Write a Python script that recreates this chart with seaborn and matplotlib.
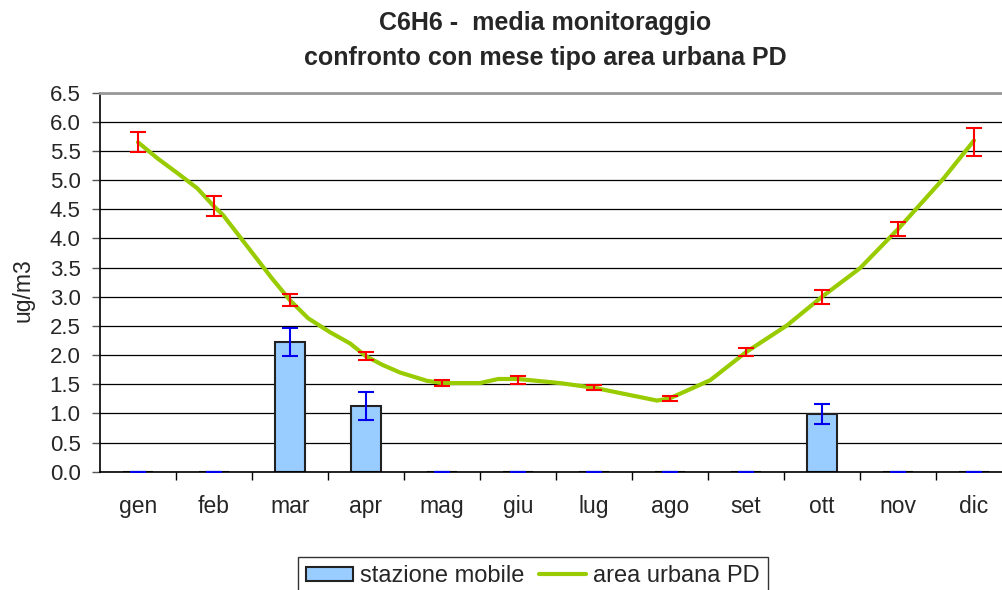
import matplotlib
matplotlib.use("Agg")
import numpy as np
import seaborn as sns
from matplotlib import pyplot as plt
from matplotlib import ticker as ticktools
from matplotlib.patches import Patch
from matplotlib.lines import Line2D

# month labels
months = ["gen", "feb", "mar", "apr", "mag", "giu",
          "lug", "ago", "set", "ott", "nov", "dic"]

# mobile station monthly means and error
mobile_values = [0, 0, 2.22, 1.12, 0, 0, 0, 0, 0, 0.99, 0, 0]
mobile_err = [0, 0, 0.24, 0.24, 0, 0, 0, 0, 0, 0.17, 0, 0]

# typical month, urban area PD
urban_values = [5.66, 4.56, 2.94, 1.98, 1.52, 1.57, 1.44, 1.26, 2.05, 2.99, 4.16, 5.66]
urban_err = [0.17, 0.17, 0.10, 0.07, 0.05, 0.07, 0.04, 0.04, 0.07, 0.12, 0.12, 0.24]

# smoothed urban curve (x in month units)
curve_pos = [0.0, 0.26, 0.53, 0.78, 1.0, 1.12, 1.76, 2.0, 2.24, 2.53, 2.79, 3.0,
             3.22, 3.45, 3.8, 4.0, 4.5, 4.74, 5.0, 5.55, 6.0, 6.83, 7.0, 7.53,
             8.0, 8.54, 9.0, 9.5, 10.0, 10.6, 11.0]
curve_values = [5.65, 5.37, 5.11, 4.86, 4.55, 4.40, 3.32, 2.94, 2.63, 2.39, 2.20, 1.98,
                1.83, 1.70, 1.56, 1.52, 1.52, 1.59, 1.59, 1.52, 1.44, 1.22, 1.26, 1.57,
                2.05, 2.51, 3.0, 3.49, 4.16, 5.03, 5.68]

y_ticks = np.arange(0, 6.51, 0.5)

sns.set_style("ticks")
plt.rcParams["font.family"] = ["Liberation Sans", "DejaVu Sans"]

fig = plt.figure(figsize=(10.02, 5.9), dpi=100)
# plot area runs past the right edge like in the original
ax = fig.add_axes([100 / 1002, 0.2005, 912 / 1002, 0.6424])

# gridlines
ax.set_axisbelow(True)
ax.yaxis.grid(True, color="black", linewidth=0.9)

# bars
sns.barplot(x=months, y=mobile_values, color="#99CCFF", edgecolor="#222222",
            linewidth=1.5, width=0.4, saturation=1, ax=ax, zorder=2)
pos = np.arange(len(months))
ax.errorbar(pos, mobile_values, yerr=mobile_err, fmt="none", ecolor="#0000EE",
            elinewidth=1.5, capsize=6, capthick=1.5, zorder=3)

# urban curve
sns.lineplot(x=curve_pos, y=curve_values, color="#99CC00", linewidth=3,
             sort=False, ax=ax, zorder=4)
ax.errorbar(pos, urban_values, yerr=urban_err, fmt="none", ecolor="#FF0000",
            elinewidth=1.5, capsize=6, capthick=1.5, zorder=5)

# axes
ax.set_xlim(-0.5, 11.5)
ax.set_ylim(0, 6.5)
ax.set_yticks(y_ticks)
ax.yaxis.set_major_formatter(ticktools.FormatStrFormatter("%.1f"))
ax.tick_params(axis="y", length=6, width=1, pad=8, labelsize=16, color="#555555")
ax.set_xticks(np.arange(0.5, 11, 1))
ax.set_xticklabels([])
ax.set_xticks(pos, minor=True)
ax.set_xticklabels(months, minor=True)
ax.tick_params(axis="x", which="major", length=6, width=1, color="black")
ax.tick_params(axis="x", which="minor", length=0, pad=17, labelsize=16.5)
ax.set_xlabel("")
ax.set_ylabel("ug/m3", fontsize=16.5)
ax.yaxis.set_label_coords(-0.072, 0.48)

for side in ["left", "bottom"]:
    ax.spines[side].set_color("black")
    ax.spines[side].set_linewidth(1.2)
ax.spines["top"].set_color("#999999")
ax.spines["top"].set_linewidth(2)
ax.spines["right"].set_visible(False)

# title
fig.text(0.544, 1 - 23 / 590, "C6H6 -  media monitoraggio", ha="center", va="center",
         fontsize=18, fontweight="bold")
fig.text(0.544, 1 - 58 / 590, "confronto con mese tipo area urbana PD", ha="center",
         va="center", fontsize=18, fontweight="bold")

# legend, its bottom is cut off like in the original
handles = [Patch(facecolor="#99CCFF", edgecolor="#222222", linewidth=1.5),
           Line2D([0], [0], color="#99CC00", linewidth=3)]
leg = fig.legend(handles, ["stazione mobile", "area urbana PD"], loc="upper center",
                 bbox_to_anchor=(0.532, 0.056), ncol=2, fontsize=17, frameon=True,
                 fancybox=False, edgecolor="black", handlelength=2.0, handleheight=0.55,
                 handletextpad=0.3, columnspacing=0.6, borderpad=0.35, borderaxespad=0)
leg.get_frame().set_linewidth(1)

fig.savefig("out.png", dpi=100)
